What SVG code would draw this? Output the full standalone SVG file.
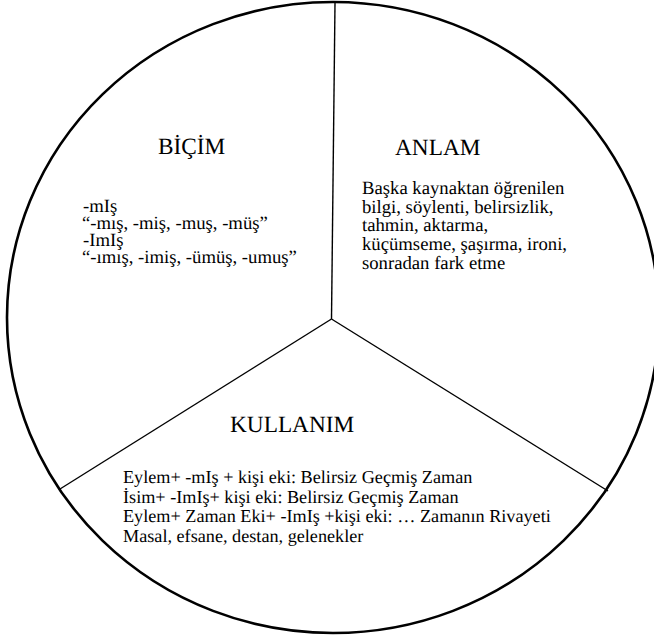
<svg xmlns="http://www.w3.org/2000/svg" width="654" height="635" viewBox="0 0 654 635" text-rendering="geometricPrecision">
<style>
.h{font-family:"Liberation Serif","Times New Roman",serif;font-size:23.3px;fill:#000}
.b{font-family:"Liberation Serif","Times New Roman",serif;font-size:18.7px;fill:#000}
.k{font-family:"Liberation Serif","Times New Roman",serif;font-size:18.2px;fill:#000}
.ln{stroke:#000;stroke-width:1.4;fill:none}
</style>
<rect width="654" height="635" fill="#fff"/>
<g id="circle">
<ellipse cx="333" cy="317.5" rx="326" ry="315.5" fill="none" stroke="#000" stroke-width="2.6"/>
</g>
<g id="connectors">
<line class="ln" x1="331.5" y1="319" x2="335" y2="3"/>
<line class="ln" x1="331.5" y1="319" x2="60" y2="489"/>
<line class="ln" x1="331.5" y1="319" x2="608" y2="491"/>
</g>
<g id="bicim">
<text class="h" x="158" y="154">BİÇİM</text>
<text class="b" x="83" y="212">-mIş</text>
<text class="b" x="82" y="229">“-mış, -miş, -muş, -müş”</text>
<text class="b" x="83" y="246">-ImIş</text>
<text class="b" x="82" y="263">“-ımış, -imiş, -ümüş, -umuş”</text>
</g>
<g id="anlam">
<text class="h" x="395" y="155">ANLAM</text>
<text class="b" x="362" y="194">Başka kaynaktan öğrenilen</text>
<text class="b" x="362" y="212.7">bilgi, söylenti, belirsizlik,</text>
<text class="b" x="362" y="231.4">tahmin, aktarma,</text>
<text class="b" x="362" y="250.1">küçümseme, şaşırma, ironi,</text>
<text class="b" x="362" y="268.8">sonradan fark etme</text>
</g>
<g id="kullanim">
<text class="h" x="230" y="432">KULLANIM</text>
<text class="k" x="123" y="483">Eylem+ -mIş + kişi eki: Belirsiz Geçmiş Zaman</text>
<text class="k" x="123" y="502.5">İsim+ -ImIş+ kişi eki: Belirsiz Geçmiş Zaman</text>
<text class="k" x="123" y="522">Eylem+ Zaman Eki+ -ImIş +kişi eki: … Zamanın Rivayeti</text>
<text class="k" x="123" y="541.5">Masal, efsane, destan, gelenekler</text>
</g>
</svg>
